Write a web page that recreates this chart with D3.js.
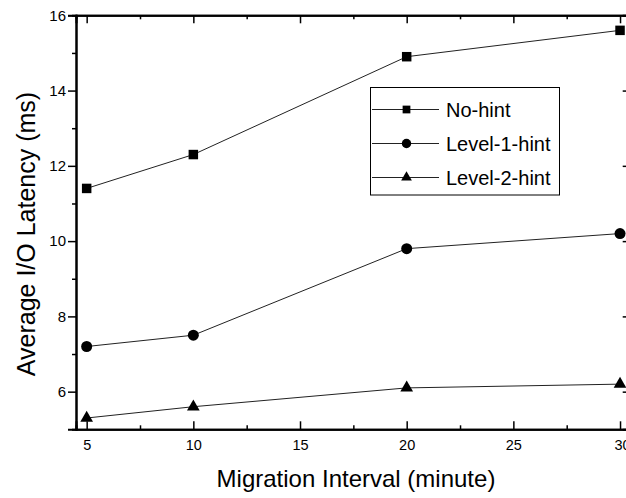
<!DOCTYPE html>
<html>
<head>
<meta charset="utf-8">
<script src="https://cdn.jsdelivr.net/npm/d3@7"></script>
<style>
  body { margin: 0; background: #fff; }
  svg { display: block; font-family: "Liberation Sans", Arial, sans-serif; }
</style>
</head>
<body>
<div id="chart"></div>
<script>
  var intervals = [5, 10, 20, 30];
  var noHint = [11.4, 12.3, 14.9, 15.6];
  var level1Hint = [7.2, 7.5, 9.8, 10.2];
  var level2Hint = [5.3, 5.6, 6.1, 6.2];
  var seriesNames = ['No-hint', 'Level-1-hint', 'Level-2-hint'];
  var seriesShapes = ['square', 'circle', 'triangle'];
  var xTicks = [5, 10, 15, 20, 25, 30];
  var yTicks = [6, 8, 10, 12, 14, 16];

  var width = 626, height = 498;
  var plotLeft = 76, plotRight = 630.7, plotTop = 15.3, plotBottom = 429.3;

  var svg = d3.select('#chart').append('svg')
    .attr('width', width)
    .attr('height', height);

  var x = d3.scaleLinear().domain([4.5, 30.5]).range([plotLeft, plotRight]);
  var y = d3.scaleLinear().domain([5, 16]).range([plotBottom, plotTop]);

  var minorX = d3.range(7.5, 30.5, 5);
  var minorY = [7, 9, 11, 13, 15];

  // bottom axis, ticks pointing in
  var gx = svg.append('g').attr('transform', 'translate(0,' + plotBottom + ')')
    .call(d3.axisBottom(x).tickValues(xTicks).tickSize(-8).tickPadding(10).tickFormat(d3.format('d')));
  gx.selectAll('.tick').filter(function(d) { return d === 30; }).select('text').attr('dx', 2);
  svg.append('g').attr('transform', 'translate(0,' + plotBottom + ')')
    .call(d3.axisBottom(x).tickValues(minorX).tickSize(-4).tickFormat(''));

  // top axis
  svg.append('g').attr('transform', 'translate(0,' + plotTop + ')')
    .call(d3.axisTop(x).tickValues(xTicks).tickSize(-8).tickFormat(''));
  svg.append('g').attr('transform', 'translate(0,' + plotTop + ')')
    .call(d3.axisTop(x).tickValues(minorX).tickSize(-4).tickFormat(''));

  // left axis, ticks pointing out
  var gy = svg.append('g').attr('transform', 'translate(' + plotLeft + ',0)')
    .call(d3.axisLeft(y).tickValues(yTicks).tickSize(8).tickPadding(2));
  svg.append('g').attr('transform', 'translate(' + plotLeft + ',0)')
    .call(d3.axisLeft(y).tickValues(minorY).tickSize(4).tickFormat(''));

  // right axis, ticks pointing in
  svg.append('g').attr('transform', 'translate(' + plotRight + ',0)')
    .call(d3.axisRight(y).tickValues(yTicks).tickSize(-8).tickFormat(''));

  svg.selectAll('.domain').attr('stroke', '#000').attr('stroke-width', 2);
  svg.selectAll('.tick line').attr('stroke', '#000').attr('stroke-width', 1.5);
  svg.selectAll('.tick text').attr('fill', '#000')
    .attr('font-family', '"Liberation Sans", Arial, sans-serif');
  gx.selectAll('.tick text').attr('font-size', 14.5);
  gy.selectAll('.tick text').attr('font-size', 15);

  // axis titles
  svg.append('text')
    .attr('x', 356).attr('y', 487)
    .attr('text-anchor', 'middle')
    .attr('font-size', 24)
    .text('Migration Interval (minute)');

  svg.append('text')
    .attr('transform', 'translate(35,234) rotate(-90)')
    .attr('text-anchor', 'middle')
    .attr('font-size', 25)
    .text('Average I/O Latency (ms)');

  var allSeries = [noHint, level1Hint, level2Hint];

  var line = d3.line()
    .x(function(d, i) { return x(intervals[i]); })
    .y(function(d) { return y(d); });

  var symbolFor = {
    square: d3.symbol().type(d3.symbolSquare).size(90),
    circle: d3.symbol().type(d3.symbolCircle).size(95),
    triangle: d3.symbol().type(d3.symbolTriangle).size(70)
  };

  allSeries.forEach(function(vals, s) {
    svg.append('path')
      .datum(vals)
      .attr('d', line)
      .attr('fill', 'none')
      .attr('stroke', '#222')
      .attr('stroke-width', 1);

    svg.selectAll('.m' + s)
      .data(vals)
      .enter()
      .append('path')
      .attr('class', 'm' + s)
      .attr('transform', function(d, i) {
        return 'translate(' + x(intervals[i]) + ',' + y(d) + ')';
      })
      .attr('d', symbolFor[seriesShapes[s]]())
      .attr('fill', '#000');
  });

  // legend
  var legend = svg.append('g');
  legend.append('rect')
    .attr('x', 370.5).attr('y', 87.5)
    .attr('width', 189).attr('height', 107.5)
    .attr('fill', '#fff')
    .attr('stroke', '#000')
    .attr('stroke-width', 1);

  var legendSymbol = {
    square: d3.symbol().type(d3.symbolSquare).size(60),
    circle: d3.symbol().type(d3.symbolCircle).size(70),
    triangle: d3.symbol().type(d3.symbolTriangle).size(50)
  };

  seriesNames.forEach(function(name, i) {
    var ly = 109.5 + i * 34;
    legend.append('line')
      .attr('x1', 372).attr('x2', 439)
      .attr('y1', ly).attr('y2', ly)
      .attr('stroke', '#222').attr('stroke-width', 1);
    legend.append('path')
      .attr('transform', 'translate(406.5,' + ly + ')')
      .attr('d', legendSymbol[seriesShapes[i]]())
      .attr('fill', '#000');
    legend.append('text')
      .attr('x', 446).attr('y', ly + 7)
      .attr('font-size', 20)
      .text(name);
  });
</script>
</body>
</html>
